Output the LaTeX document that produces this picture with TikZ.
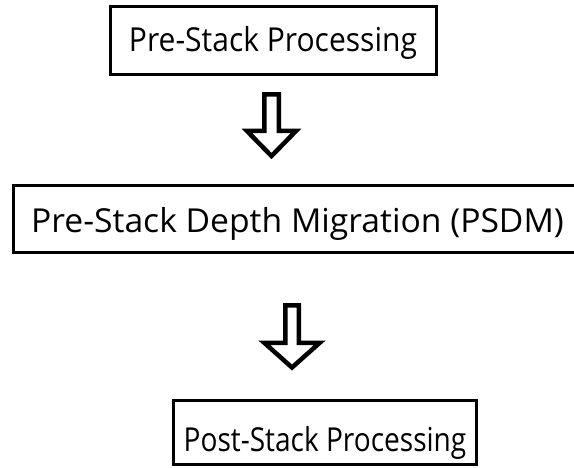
\documentclass[tikz,border=0pt]{standalone}
\usepackage{fontspec}
\setmainfont{Open Sans}
\begin{document}
\begin{tikzpicture}[x=1pt, y=-1pt, line join=miter,
  stagebox/.style={draw, line width=3pt, inner sep=0pt, text depth=0pt,
    font=\fontsize{33}{36}\selectfont},
  blockarrow/.style={draw, line width=4.5pt, miter limit=10}]
\path[use as bounding box, clip] (0,0) rectangle (574,468);

% processing stages
\node[stagebox, minimum width=326pt, minimum height=68pt, text height=23pt]
  (pre) at (273,40.5) {\scalebox{0.91}[1]{Pre-Stack Processing}};
\node[stagebox, minimum width=569pt, minimum height=67pt, text height=27.4pt]
  (psdm) at (297.5,219) {\scalebox{1.02}[1]{Pre-Stack Depth Migration (PSDM)}};
\node[stagebox, minimum width=303.5pt, minimum height=64pt, text height=38pt]
  (post) at (325,432) {\scalebox{0.85}[1]{Post-Stack Processing}};

% hollow block arrows between the stages
\coordinate (a1) at (271.5,94.5);
\coordinate (a2) at (292,305.3);
\draw[blockarrow] (a1) ++(-7.25,0) -- ++(14.5,0) -- ++(0,36.5) -- ++(17.25,0)
  -- ++(-24.5,25) -- ++(-24.5,-25) -- ++(17.25,0) -- cycle;
\draw[blockarrow] (a2) ++(-6.75,0) -- ++(13.5,0) -- ++(0,37.7) -- ++(20.75,0)
  -- ++(-27.5,24.5) -- ++(-27.5,-24.5) -- ++(20.75,0) -- cycle;
\end{tikzpicture}
\end{document}
